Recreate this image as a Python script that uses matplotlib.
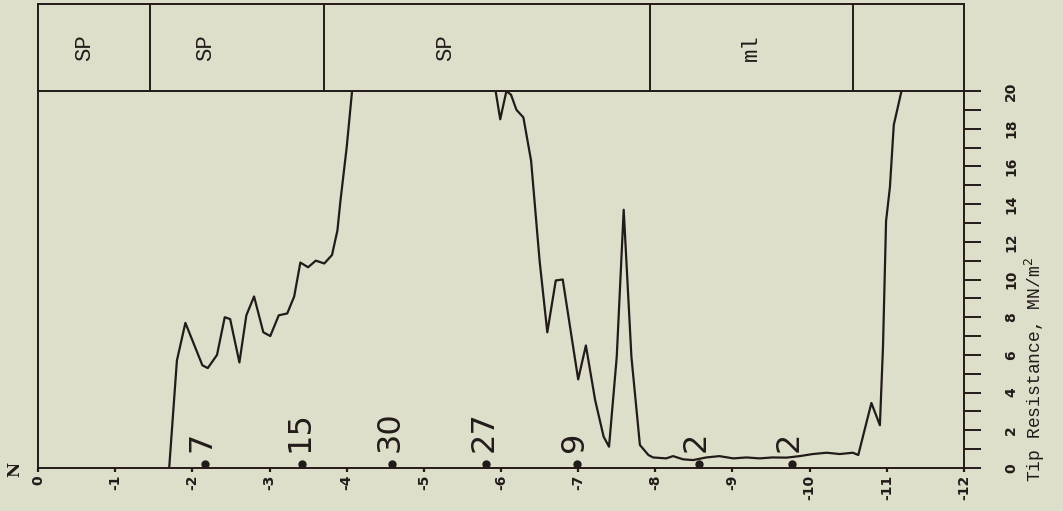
import numpy as np
import matplotlib.pyplot as plt
from matplotlib.ticker import FixedLocator

# cone penetration log: depth (m) along x, tip resistance (MN/m^2) along y
depth_upper = [-1.70, -1.80, -1.91, -2.13, -2.20, -2.32, -2.42, -2.49, -2.61, -2.70,
               -2.80, -2.92, -3.01, -3.12, -3.23, -3.32, -3.40, -3.50, -3.60, -3.71,
               -3.81, -3.88, -3.92, -4.00, -4.07]
tip_upper = [0.0, 5.7, 7.7, 5.45, 5.3, 6.0, 8.0, 7.9, 5.6, 8.1,
             9.1, 7.2, 7.0, 8.1, 8.2, 9.1, 10.9, 10.65, 11.0, 10.85,
             11.3, 12.6, 14.2, 17.0, 20.0]

depth_lower = [-5.93, -5.99, -6.07, -6.13, -6.20, -6.29, -6.39, -6.50, -6.60, -6.71,
               -6.80, -7.00, -7.10, -7.22, -7.33, -7.40, -7.50, -7.59, -7.69, -7.80,
               -7.91, -7.97, -8.14, -8.23, -8.36, -8.49, -8.66, -8.83, -9.01, -9.18,
               -9.35, -9.52, -9.70, -9.87, -10.04, -10.22, -10.39, -10.56, -10.63, -10.80,
               -10.91, -10.95, -10.99, -11.04, -11.09, -11.19]
tip_lower = [20.0, 18.5, 20.0, 19.8, 19.0, 18.6, 16.3, 11.0, 7.2, 9.95,
             10.0, 4.7, 6.5, 3.6, 1.66, 1.13, 5.9, 13.7, 5.9, 1.22,
             0.69, 0.56, 0.51, 0.63, 0.46, 0.42, 0.56, 0.63, 0.51, 0.56,
             0.51, 0.56, 0.55, 0.63, 0.74, 0.81, 0.74, 0.81, 0.69, 3.45,
             2.27, 6.4, 13.1, 14.9, 18.2, 20.0]

# standard penetration blow counts
spt_depth = [-2.16, -3.42, -4.59, -5.81, -6.98, -8.56, -9.77]
spt_n = [7, 15, 30, 27, 9, 2, 2]

# soil column
layer_edges = [0, -1.45, -3.70, -7.93, -10.56, -12]
layer_names = ["SP", "SP", "SP", "ml", ""]
layer_label_depth = [-0.6, -2.17, -5.28, -9.25, -11.3]

depth_ticks = list(range(0, -13, -1))
tip_ticks = list(range(0, 21))

W, H = 1063, 511
bg = "#dedfcb"
ink = "#231a1a"

fig = plt.figure(figsize=(W / 100, H / 100), dpi=100, facecolor=bg)

ax = fig.add_axes([38 / W, (H - 468) / H, (964 - 38) / W, (468 - 91) / H])
ax.set_facecolor(bg)
ax.plot(depth_upper, tip_upper, color=ink, lw=1.6)
ax.plot(depth_lower, tip_lower, color=ink, lw=1.6)
ax.plot(spt_depth, [0.22] * len(spt_depth), "o", color=ink, ms=5, clip_on=False)
for d, n in zip(spt_depth, spt_n):
    ax.text(d + 0.03, 0.85, str(n), rotation=90, ha="center", va="bottom",
            fontsize=23, color=ink, family="DejaVu Sans")

ax.set_xlim(0, -12)
ax.set_ylim(0, 20)
for s in ax.spines.values():
    s.set_color(ink)
    s.set_linewidth(1.4)

ax.xaxis.set_major_locator(FixedLocator(depth_ticks))
ax.set_xticklabels([str(t) for t in depth_ticks], rotation=90, fontsize=10,
                   fontweight="bold", color=ink)
ax.tick_params(axis="x", direction="out", length=3, width=1.6, pad=2, color=ink)

ax.yaxis.tick_right()
ax.yaxis.set_major_locator(FixedLocator(tip_ticks))
ax.set_yticklabels([str(t) if t % 2 == 0 else "" for t in tip_ticks],
                   rotation=90, fontsize=10, fontweight="bold", color=ink, va="center")
ax.tick_params(axis="y", direction="out", length=12, width=1.4, pad=17, color=ink)

# soil column boxes above the log
box = fig.add_axes([38 / W, (H - 91) / H, (964 - 38) / W, (91 - 4) / H])
box.set_facecolor(bg)
box.set_xlim(0, -12)
box.set_ylim(0, 1)
box.set_xticks([])
box.set_yticks([])
for s in box.spines.values():
    s.set_color(ink)
    s.set_linewidth(1.4)
for e in layer_edges[1:-1]:
    box.axvline(e, color=ink, lw=1.4)
for d, name in zip(layer_label_depth, layer_names):
    box.text(d, 0.5, name, rotation=90, ha="center", va="center",
             fontsize=16, color=ink, family="Liberation Mono")

fig.text(1035 / W, 1 - 370 / H, "Tip Resistance, MN/m$^2$", rotation=90,
         ha="center", va="center", fontsize=13, color=ink, family="Liberation Mono")
fig.text(15 / W, 1 - 469 / H, "N", rotation=90, ha="center", va="center",
         fontsize=12, fontweight="bold", color=ink, family="DejaVu Serif")

fig.savefig("out.png", dpi=100, facecolor=bg)
